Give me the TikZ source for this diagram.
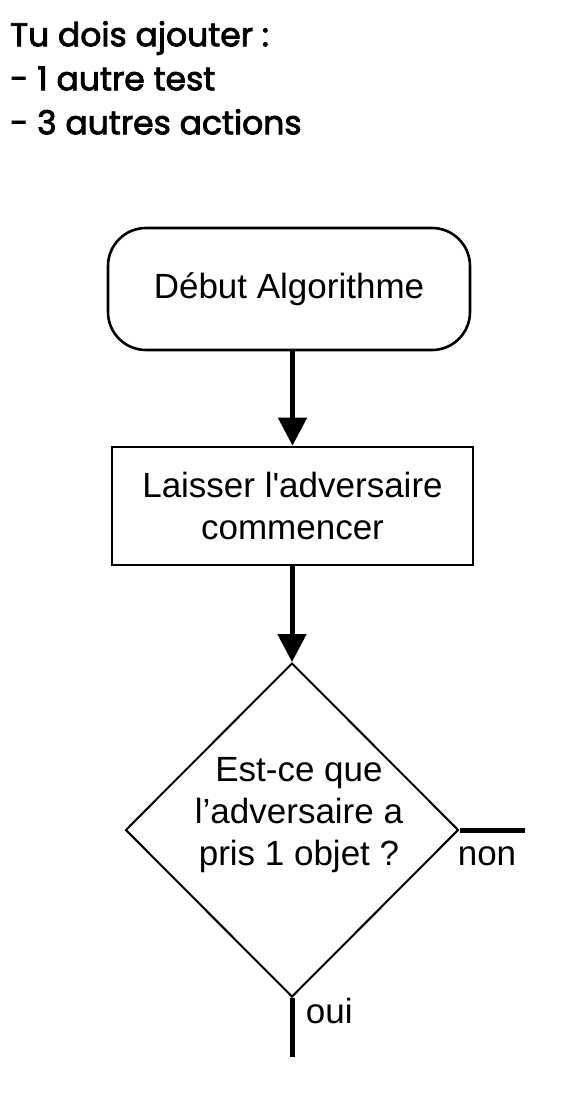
\documentclass[tikz,border=0pt]{standalone}
\usepackage{fontspec}
\newfontfamily\helv{Liberation Sans}
\newfontfamily\geom{Poppins}[FakeBold=2.5]
\usetikzlibrary{shapes.geometric,arrows.meta}

\begin{document}
\begin{tikzpicture}[
  x=1pt, y=-1pt,
  font=\helv\fontsize{35}{42}\selectfont,
  startbox/.style={
    draw,
    rectangle,
    rounded corners=38pt,
    align=center,
    minimum width=362pt,
    minimum height=122pt,
    line width=2.6pt
  },
  actionbox/.style={
    draw,
    rectangle,
    align=center,
    minimum width=361pt,
    minimum height=118pt,
    line width=2.6pt
  },
  testbox/.style={
    draw,
    diamond,
    inner sep=0pt,
    minimum width=333pt,
    minimum height=334pt,
    line width=2pt
  },
  flow/.style={-{Triangle[length=28pt,width=28pt]}, line width=5pt},
  branch/.style={line width=5pt}
]
\useasboundingbox (0,0) rectangle (580,1094);

\node[anchor=north west, align=left, inner sep=0pt,
  font=\geom\fontsize{33}{44}\selectfont] (note) at (10,21)
  {Tu dois ajouter :\\- 1 autre test\\- 3 autres actions};

\node[startbox] (start) at (289,289) {Début Algorithme};
\node[actionbox] (first) at (292.5,506) {Laisser l'adversaire\\commencer};
\node[testbox] (test) at (292,830) {};
\node[align=center] (question) at (299,815) {Est-ce que\\l’adversaire a\\pris 1 objet ?};

\coordinate (noend) at (525,830);
\coordinate (yesend) at (292,1057);

\draw[flow] (start.south -| first.north) -- (first.north);
\draw[flow] (first.south -| test.north) -- (test.north);

\draw[branch] (test.east) -- node[below=11pt, pos=0.42] (no) {non} (noend);
\draw[branch] (test.south) -- node[right=8pt, pos=0.22] (yes) {oui} (yesend);

\end{tikzpicture}
\end{document}
